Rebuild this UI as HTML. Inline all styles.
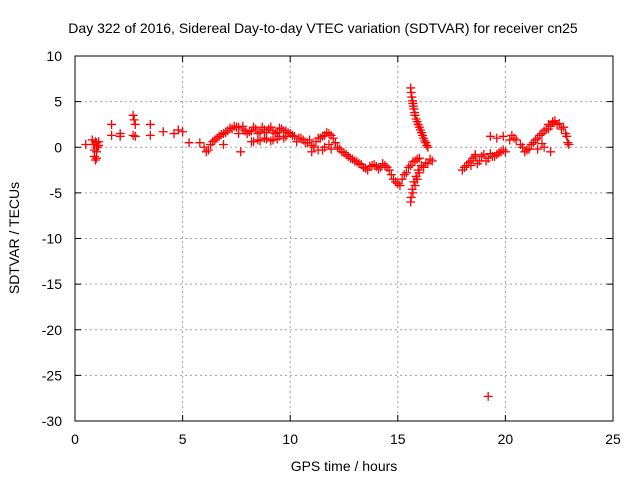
<!DOCTYPE html>
<html><head><meta charset="utf-8"><style>
body{margin:0;background:#fff}
svg{display:block;font-family:"Liberation Sans",sans-serif}
</style></head><body>
<svg id="c" width="640" height="480">
<rect width="640" height="480" fill="#fff"/>
<text x="323" y="33" font-size="14" text-anchor="middle">Day 322 of 2016, Sidereal Day-to-day VTEC variation (SDTVAR) for receiver cn25</text>
<text x="344" y="471" font-size="14" text-anchor="middle">GPS time / hours</text>
<text transform="translate(19,238) rotate(-90)" font-size="14" text-anchor="middle">SDTVAR / TECUs</text>
<g id="grid"></g><g id="ticks"></g><g id="pts"></g>
<rect x="75" y="56" width="538" height="365" fill="none" stroke="#000"/>
</svg>
<script>
const xTicks=[0,5,10,15,20,25];
const yTicks=[10,5,0,-5,-10,-15,-20,-25,-30];
const times=[0.5,0.8,0.85,0.9,0.9,0.95,1.0,1.0,1.05,1.1,1.7,1.7,2.1,2.1,2.7,2.75,2.8,2.8,2.7,3.5,3.5,4.1,4.6,4.8,5.0,5.3,5.8,6.0,6.1,6.3,6.5,6.7,6.9,7.1,7.3,7.5,7.6,7.8,7.9,7.7,8.0,8.2,8.4,8.6,8.8,9.0,9.2,9.4,9.6,9.8,8.2,8.5,8.8,9.1,9.4,9.7,10.0,10.2,10.4,10.6,10.8,11.0,11.2,11.4,11.6,11.8,12.0,11.0,11.3,11.6,11.9,12.2,12.4,12.6,12.8,13.0,13.2,13.4,13.6,13.8,14.0,14.2,14.4,14.6,14.8,15.0,15.2,15.4,15.6,15.8,16.0,15.6,15.7,15.8,15.9,16.0,16.2,16.4,16.6,15.6,15.65,15.7,15.75,15.8,15.9,16.0,16.1,16.2,16.3,16.4,18.0,18.2,18.4,18.6,18.8,19.0,19.2,19.4,19.6,19.8,20.0,19.3,19.6,19.9,19.2,20.3,20.5,20.7,20.9,21.0,21.2,21.4,21.6,21.8,22.0,22.2,22.0,22.2,22.4,22.6,22.8,22.9,21.8,22.1,
7.2,7.4,7.6,7.8,8.1,8.3,8.5,8.7,8.9,9.1,9.3,9.5,9.7,9.9,10.1,8.3,8.6,8.9,9.2,9.5,9.8,10.3,10.5,10.7,10.9,11.1,11.3,11.5,11.7,11.9,12.1,11.5,11.8,12.3,12.5,12.7,12.9,13.1,13.3,13.5,13.7,13.9,14.1,14.3,14.5,14.7,14.9,15.1,15.3,15.5,15.7,15.9,15.62,15.67,15.75,15.85,15.95,16.1,16.3,16.5,15.62,15.68,15.72,15.78,15.85,15.95,16.05,16.15,16.25,16.35,18.1,18.3,18.5,18.7,18.9,19.1,19.3,19.5,19.7,19.9,18.4,18.6,20.8,21.1,21.3,21.5,21.7,21.9,22.1,22.3,22.5,22.7,22.85,22.95,21.5,21.7,20.4,20.2,6.4,6.6,6.8,7.0,6.2,6.9,1.0,0.95,1.1];
const values=[0.3,0.8,0.3,-0.3,-1.0,-1.4,0.5,-0.5,0.0,0.2,2.5,1.3,1.2,1.5,3.5,3.0,2.5,1.2,1.3,2.5,1.3,1.7,1.5,1.9,1.7,0.5,0.5,0.0,-0.5,0.3,0.8,1.2,1.5,1.8,2.0,2.2,1.5,2.0,1.8,-0.5,1.5,1.8,2.0,1.7,1.9,2.0,1.8,1.6,2.0,1.8,0.6,0.8,1.0,0.7,0.9,1.0,1.5,1.2,1.0,0.8,0.5,0.2,0.6,1.0,1.3,1.5,1.0,-0.5,-0.3,0.0,-0.2,0.0,-0.5,-0.8,-1.2,-1.5,-1.8,-2.2,-2.5,-2.0,-2.1,-2.2,-2.0,-2.5,-3.5,-4.0,-3.5,-2.8,-2.0,-1.5,-1.2,-6.0,-5.0,-4.2,-3.5,-2.8,-2.2,-1.8,-1.5,6.5,5.5,4.8,4.2,3.5,2.8,2.2,1.6,1.0,0.5,0.0,-2.5,-2.0,-1.5,-1.0,-1.5,-0.8,-1.2,-1.0,-0.8,-0.5,-0.5,1.2,1.0,1.2,-27.3,1.3,0.8,0.3,-0.5,-0.3,0.3,0.8,1.3,1.8,2.5,2.7,2.0,2.8,2.5,2.0,1.5,0.5,0.0,-0.5,
2.1,2.3,2.2,2.3,1.7,2.2,1.5,2.2,1.6,2.2,1.5,2.1,1.8,1.6,1.3,0.6,0.7,0.9,0.8,1.2,1.2,0.6,1.0,0.5,0.8,0.0,1.0,1.2,1.6,1.3,0.5,-0.3,0.3,-0.2,-0.6,-1.0,-1.3,-1.6,-1.9,-2.3,-2.1,-1.9,-2.4,-1.8,-2.2,-3.0,-3.8,-4.2,-3.0,-2.2,-1.6,-1.3,-5.5,-4.6,-3.8,-3.2,-2.5,-2.0,-1.7,-1.3,6.0,5.1,4.5,3.8,3.1,2.5,1.9,1.3,0.7,0.2,-2.2,-1.7,-1.2,-1.8,-1.0,-1.5,-0.7,-1.0,-0.6,-0.3,-2.0,-0.8,0.0,-0.2,0.5,1.0,1.5,2.0,2.3,2.9,2.6,2.2,1.2,0.3,-0.2,0.4,1.0,0.8,0.6,1.0,1.4,1.6,-0.3,0.3,-1.2,0.6,0.6];
const X=v=>75+v*538/25, Y=v=>56+(10-v)*365/40;
const ns="http://www.w3.org/2000/svg";
function mk(t,a,p){const e=document.createElementNS(ns,t);for(const k in a)e.setAttribute(k,a[k]);p.appendChild(e);return e;}
const g=document.getElementById('grid'),tk=document.getElementById('ticks'),pts=document.getElementById('pts');
xTicks.forEach(v=>{
 if(v>0&&v<25){const l=mk('line',{x1:X(v),x2:X(v),y1:56,y2:421,stroke:'#a0a0a0','stroke-dasharray':'2,3'},g);
 
 }
 mk('line',{x1:X(v),x2:X(v),y1:421,y2:415,stroke:'#000'},tk);
 mk('line',{x1:X(v),x2:X(v),y1:56,y2:62,stroke:'#000'},tk);
 const t=mk('text',{x:X(v),y:444,'font-size':14,'text-anchor':'middle'},tk);t.textContent=v;
 
 
});
yTicks.forEach(v=>{
 if(v<10&&v>-30){const l=mk('line',{x1:75,x2:613,y1:Y(v),y2:Y(v),stroke:'#a0a0a0','stroke-dasharray':'2,3'},g);
 
 }
 mk('line',{x1:75,x2:81,y1:Y(v),y2:Y(v),stroke:'#000'},tk);
 mk('line',{x1:613,x2:607,y1:Y(v),y2:Y(v),stroke:'#000'},tk);
 const t=mk('text',{x:62,y:Y(v)+5,'font-size':14,'text-anchor':'end'},tk);t.textContent=v;
 
 
});
times.forEach((t,i)=>{
 const x=X(t),y=Y(values[i]);
 const p=mk('path',{d:`M${x-4.5},${y}H${x+4.5}M${x},${y-4.5}V${y+4.5}`,stroke:'#f00','stroke-width':1.3,fill:'none'},pts);
 
 
});
</script>
</body></html>
